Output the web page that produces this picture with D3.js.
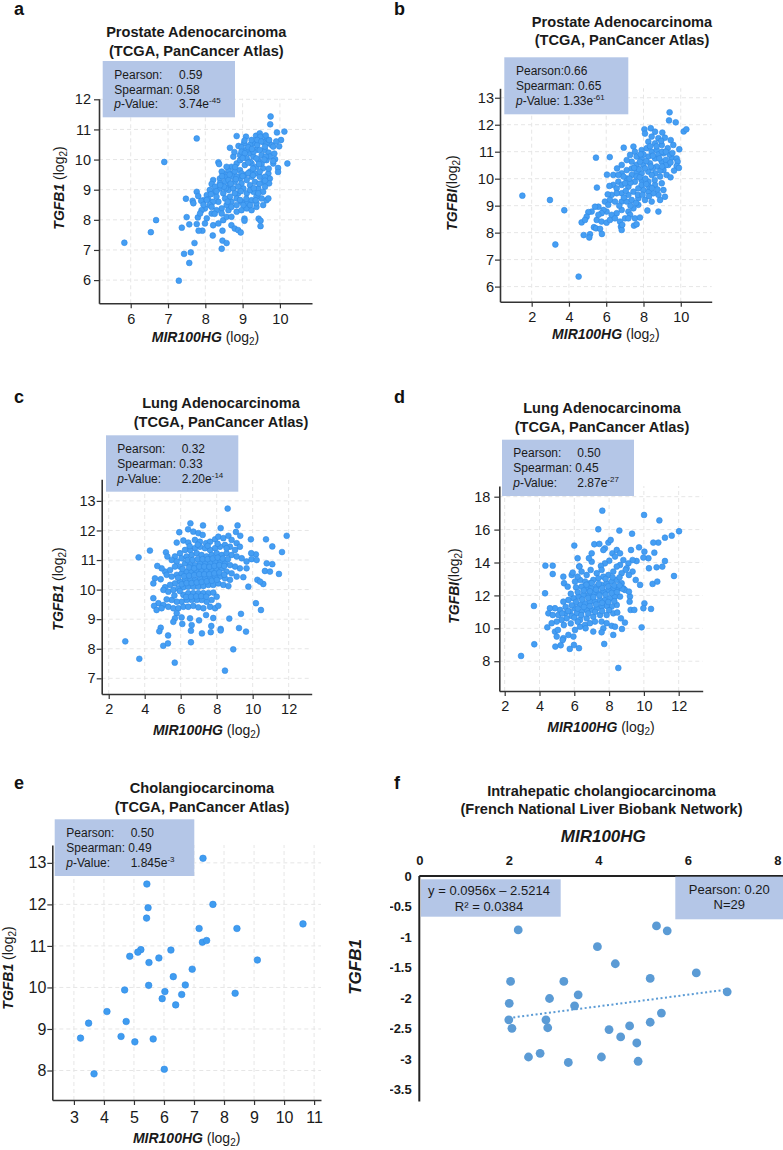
<!DOCTYPE html>
<html><head><meta charset="utf-8">
<script src="https://cdn.jsdelivr.net/npm/d3@7"></script>
<style>body{margin:0;background:#fff}svg{display:block}</style>
</head><body>
<svg id="c" width="783" height="1150"></svg>
<script>
// ---------------- DATA ----------------
const pointsA = [[9.75,11.43],[9.74,11.17],[9.92,10.90],[10.12,10.93],[10.03,10.65],[9.98,10.44],[10.20,9.87],[9.95,9.72],[9.95,9.59],[7.77,10.70],[8.84,10.78],[9.09,10.76],[9.36,10.79],[9.46,10.87],[9.48,10.76],[9.64,10.68],[9.55,10.59],[9.71,10.54],[9.78,10.48],[9.29,10.54],[9.20,10.49],[9.04,10.54],[8.89,10.45],[8.97,10.41],[8.66,10.39],[9.37,10.32],[9.60,10.32],[9.70,10.23],[9.51,10.15],[9.73,10.10],[9.87,10.01],[9.82,9.87],[9.64,9.98],[9.42,9.98],[9.20,10.21],[9.11,10.04],[8.93,10.15],[8.75,10.10],[8.84,9.87],[8.70,9.76],[8.35,9.91],[8.37,9.85],[8.62,9.63],[8.48,9.54],[8.57,9.43],[8.75,9.54],[8.93,9.65],[9.06,9.82],[9.24,9.87],[9.37,9.76],[9.55,9.71],[9.69,9.54],[9.73,9.37],[9.71,9.21],[9.55,9.26],[9.46,9.43],[9.33,9.54],[9.20,9.60],[9.06,9.49],[8.93,9.37],[8.79,9.26],[8.66,9.15],[8.53,9.26],[8.39,9.37],[8.21,9.32],[8.17,9.19],[8.12,8.99],[8.04,8.82],[7.95,8.65],[8.08,8.68],[8.26,8.93],[8.39,9.04],[8.48,8.88],[8.62,8.99],[8.75,9.04],[8.88,8.88],[9.02,9.04],[9.20,9.15],[9.33,9.26],[9.42,9.04],[9.55,8.93],[9.64,8.65],[9.51,8.71],[9.37,8.77],[9.24,8.65],[9.11,8.55],[8.97,8.60],[8.84,8.71],[8.70,8.60],[8.57,8.49],[8.44,8.38],[8.35,8.60],[8.21,8.60],[8.12,8.49],[7.99,8.38],[7.90,8.32],[7.77,8.93],[7.81,8.79],[7.48,8.70],[7.66,8.63],[7.68,8.55],[7.89,8.63],[7.80,8.08],[7.86,8.21],[7.50,8.09],[7.37,7.74],[7.57,7.85],[7.77,7.86],[8.04,8.05],[8.17,8.21],[7.99,7.88],[8.21,7.82],[8.35,7.88],[8.48,7.99],[8.57,8.10],[8.70,8.10],[8.84,8.27],[8.97,8.32],[9.11,8.38],[9.24,8.32],[9.37,8.43],[8.70,7.82],[8.79,7.71],[8.88,7.66],[8.95,7.58],[8.46,7.64],[8.20,7.48],[7.92,7.64],[7.82,7.64],[9.43,8.04],[9.48,7.97],[9.48,7.79],[9.05,8.04],[9.05,7.97],[7.71,7.23],[7.43,6.87],[7.61,6.92],[8.44,7.04],[8.46,7.31],[8.57,7.23],[8.93,8.66],[8.79,8.88],[9.11,8.88],[9.29,8.93],[8.66,8.77],[8.53,8.71],[8.30,8.77],[9.24,9.43],[9.11,9.32],[8.97,9.21],[9.46,9.60],[9.60,9.43],[9.11,10.32],[8.97,10.26],[9.29,10.10],[9.39,10.48],[9.24,10.65],[9.82,10.43],[9.62,10.10],[8.93,9.98],[8.79,9.60],[8.97,9.54],[8.62,9.32],[8.88,9.10],[9.20,8.99],[9.42,8.88],[9.60,9.10],[8.39,9.21],[8.26,9.10],[8.04,8.66],[8.17,8.43],[8.30,8.32],[8.44,8.21],[8.62,8.32],[8.70,8.43],[8.84,8.49],[9.02,8.49],[9.20,8.49],[9.37,8.55],[9.55,8.49],[9.69,8.71],[9.20,9.93],[9.37,10.04],[9.51,9.87],[9.60,10.43],[9.71,10.65],[9.39,10.65],[9.15,10.41],[9.06,10.21],[9.29,10.26],[9.46,10.32],[8.75,9.43],[8.84,9.43],[8.57,9.76],[8.44,9.60],[8.55,9.05],[8.68,9.20],[8.82,9.35],[9.00,9.45],[9.15,9.55],[9.28,9.70],[9.44,9.85],[9.58,10.00],[9.15,9.90],[9.00,10.05],[8.80,9.75],[8.65,9.50],[8.50,9.10],[9.30,9.05],[9.45,9.20],[9.60,9.30],[9.10,8.70],[8.95,8.95],[9.35,8.65],[8.60,8.60],[8.30,8.95],[8.45,9.45],[9.50,10.60],[9.62,10.80],[9.85,10.20],[9.90,10.60],[9.25,10.35],[8.78,10.25],[9.05,10.63],[8.40,9.15],[8.15,8.85],[7.95,8.50],[8.25,8.20],[9.28,9.48],[9.70,9.70],[9.82,9.95],[5.83,7.24],[6.54,7.59],[6.68,7.99],[6.90,9.92],[7.29,5.98],[7.57,6.57]];

const pointsB = [[9.40,12.46],[9.37,12.16],[9.73,12.09],[10.16,11.75],[10.30,11.83],[8.05,11.83],[8.39,11.87],[8.08,11.67],[8.62,11.74],[9.01,11.71],[8.44,11.56],[8.80,11.50],[9.15,11.52],[9.46,11.43],[8.26,11.37],[8.62,11.31],[8.98,11.25],[9.30,11.13],[9.92,11.09],[6.94,11.15],[5.45,10.78],[6.19,10.80],[7.46,11.19],[7.54,11.00],[7.90,11.06],[8.17,11.13],[8.44,11.00],[8.71,11.06],[9.07,10.94],[9.51,10.78],[9.78,10.75],[9.83,10.63],[9.78,10.47],[9.64,10.30],[9.33,10.51],[8.98,10.63],[8.62,10.75],[8.26,10.82],[7.90,10.75],[7.63,10.82],[7.37,10.63],[7.10,10.69],[6.83,10.51],[6.58,10.38],[6.83,10.20],[7.10,10.32],[7.37,10.38],[7.63,10.51],[7.99,10.51],[8.35,10.57],[8.71,10.45],[9.07,10.32],[9.24,10.14],[8.89,10.08],[8.62,10.20],[8.26,10.26],[7.90,10.20],[7.63,10.26],[7.37,10.14],[7.10,10.01],[6.92,10.08],[6.65,9.89],[6.38,9.77],[6.04,10.15],[6.38,10.14],[6.17,9.73],[5.50,9.67],[6.56,9.64],[6.83,9.77],[7.19,9.70],[7.54,9.89],[7.90,9.95],[8.26,9.89],[8.62,9.77],[8.98,9.83],[9.07,9.58],[8.80,9.40],[8.53,9.46],[8.26,9.52],[7.99,9.58],[7.72,9.64],[7.46,9.52],[7.19,9.40],[6.83,9.46],[6.56,9.46],[6.29,9.40],[6.08,9.42],[5.93,9.15],[6.20,9.21],[6.47,9.15],[6.83,9.15],[7.10,9.15],[7.37,9.21],[7.72,9.27],[8.08,9.21],[8.44,9.15],[8.89,9.21],[9.15,9.33],[8.80,8.78],[8.21,8.82],[7.72,9.03],[7.46,8.90],[7.19,8.78],[6.83,8.84],[6.56,8.72],[6.29,8.66],[6.02,8.78],[5.85,8.84],[5.58,8.96],[5.40,8.96],[5.22,8.78],[5.04,8.76],[4.95,8.59],[4.68,8.38],[4.86,8.47],[5.49,8.47],[5.75,8.41],[6.02,8.37],[6.20,8.47],[6.47,8.53],[6.74,8.41],[7.01,8.53],[7.28,8.66],[7.54,8.53],[7.81,8.56],[7.49,8.26],[7.63,8.31],[7.19,8.53],[6.79,8.22],[6.83,8.10],[6.86,8.29],[5.34,8.20],[5.45,8.16],[5.67,8.14],[5.77,7.95],[5.13,7.94],[4.79,7.91],[5.09,7.82],[3.75,8.83],[5.75,8.72],[5.58,8.66],[6.11,9.03],[7.90,9.77],[7.63,10.08],[8.08,10.38],[8.44,10.14],[7.81,10.63],[7.28,10.88],[7.01,9.83],[6.65,10.14],[8.00,10.90],[8.50,10.40],[8.80,10.90],[9.20,10.70],[8.30,9.70],[7.70,9.40],[8.60,9.95],[9.40,10.90],[9.00,11.00],[8.10,10.00],[7.30,9.85],[8.90,10.30],[7.75,10.35],[8.15,10.65],[8.50,10.85],[8.85,10.75],[9.20,10.50],[9.45,10.60],[9.55,10.95],[8.70,11.20],[8.35,11.20],[7.85,10.90],[7.50,10.40],[7.25,10.00],[7.80,10.05],[8.15,9.80],[8.45,9.65],[8.75,9.60],[8.40,10.45],[9.00,10.45],[7.05,9.55],[7.60,9.10],[7.95,9.40],[8.30,9.35],[6.95,9.30],[6.70,9.00],[7.30,9.00],[9.20,11.00],[8.95,11.40],[9.60,11.25],[9.90,10.40],[9.45,10.05],[1.50,9.37],[2.98,9.21],[3.27,7.56],[4.52,6.37]];

const pointsC = [[8.61,12.74],[6.54,12.24],[7.24,12.17],[6.41,12.04],[6.70,11.96],[6.98,11.91],[7.22,11.85],[5.92,11.94],[8.22,12.08],[9.16,12.17],[9.07,11.95],[9.31,11.82],[9.90,11.70],[10.74,11.70],[11.89,11.82],[11.09,11.46],[11.63,11.27],[10.18,11.19],[9.92,11.23],[4.29,11.32],[3.66,11.09],[5.18,11.26],[5.26,11.12],[5.78,11.59],[6.15,11.66],[6.42,11.59],[6.79,11.68],[7.07,11.62],[7.41,11.57],[7.63,11.62],[7.91,11.70],[8.09,11.79],[8.37,11.74],[8.65,11.82],[8.83,11.68],[9.11,11.57],[9.29,11.45],[9.02,11.34],[8.74,11.45],[8.46,11.51],[8.18,11.45],[7.91,11.40],[7.63,11.34],[7.35,11.40],[7.07,11.45],[6.79,11.40],[6.52,11.34],[6.24,11.34],[5.96,11.23],[5.68,11.12],[5.50,11.00],[5.78,10.95],[6.05,11.06],[6.33,11.12],[6.61,11.17],[6.89,11.23],[7.16,11.17],[7.44,11.12],[7.72,11.17],[8.00,11.23],[8.28,11.17],[8.55,11.23],[8.83,11.17],[9.11,11.12],[9.39,11.06],[9.66,10.95],[9.94,11.03],[10.22,11.00],[10.78,10.89],[11.09,10.86],[10.68,10.63],[10.96,10.61],[11.46,10.53],[10.26,10.33],[10.59,10.19],[10.41,10.27],[9.76,10.10],[9.48,10.42],[9.66,10.72],[9.29,10.72],[9.02,10.78],[8.74,10.83],[8.46,10.89],[8.18,10.95],[7.91,10.95],[7.63,10.89],[7.35,10.89],[7.07,10.89],[6.79,10.83],[6.52,10.83],[6.24,10.89],[5.96,10.78],[5.68,10.78],[5.41,10.66],[5.13,10.61],[4.94,10.72],[4.70,10.80],[4.57,10.38],[4.89,10.35],[4.48,10.21],[5.22,10.50],[5.50,10.44],[5.78,10.50],[6.05,10.55],[6.33,10.61],[6.61,10.61],[6.89,10.61],[7.16,10.66],[7.44,10.66],[7.72,10.66],[8.00,10.66],[8.28,10.72],[8.55,10.61],[8.83,10.55],[9.11,10.44],[8.74,10.33],[8.46,10.38],[8.18,10.44],[7.91,10.44],[7.63,10.38],[7.35,10.38],[7.07,10.38],[6.79,10.33],[6.52,10.33],[6.24,10.33],[5.96,10.27],[5.68,10.21],[5.41,10.16],[5.13,10.08],[5.04,9.99],[5.31,9.93],[5.59,9.99],[5.87,10.04],[6.15,10.08],[6.42,10.10],[6.70,10.10],[6.98,10.10],[7.26,10.12],[7.54,10.16],[7.81,10.16],[8.09,10.21],[8.37,10.16],[8.65,10.12],[6.15,9.82],[6.42,9.88],[6.70,9.88],[6.98,9.88],[7.26,9.88],[7.54,9.88],[7.81,9.90],[8.00,9.76],[7.72,9.65],[7.44,9.59],[7.16,9.65],[6.89,9.65],[6.61,9.65],[6.33,9.65],[6.05,9.59],[5.78,9.59],[5.50,9.65],[5.22,9.67],[4.48,9.71],[4.76,9.54],[5.04,9.48],[4.52,9.45],[4.66,9.31],[4.94,9.37],[5.31,9.42],[5.59,9.37],[5.87,9.37],[6.15,9.42],[6.42,9.42],[6.70,9.45],[6.98,9.40],[7.26,9.37],[7.63,9.42],[7.91,9.37],[8.09,9.45],[10.18,9.54],[10.46,9.31],[9.35,9.18],[8.70,9.02],[7.81,9.04],[7.41,9.14],[7.02,8.96],[6.52,9.03],[6.05,9.06],[5.78,9.20],[5.68,9.03],[5.59,8.91],[6.09,8.84],[6.61,8.80],[7.70,8.77],[8.22,8.67],[9.24,8.70],[4.89,8.71],[6.38,11.00],[6.66,11.00],[6.94,11.03],[7.22,11.03],[7.50,11.03],[7.78,11.05],[8.06,11.08],[8.34,11.05],[8.62,11.03],[6.10,10.70],[6.47,10.75],[6.75,10.72],[7.03,10.78],[7.31,10.78],[7.59,10.77],[7.87,10.80],[8.15,10.83],[8.42,10.80],[5.85,10.40],[6.19,10.45],[6.47,10.47],[6.75,10.49],[7.03,10.52],[7.31,10.52],[7.59,10.52],[7.87,10.55],[8.15,10.58],[8.42,10.50],[6.05,10.18],[6.33,10.22],[6.61,10.22],[6.89,10.24],[7.17,10.26],[7.45,10.28],[7.73,10.30],[8.01,10.33],[6.30,9.75],[6.58,9.76],[6.86,9.77],[7.14,9.78],[7.42,9.76],[5.95,9.95],[5.65,9.80],[6.50,11.47],[6.95,11.52],[7.50,11.48],[8.05,11.55],[8.55,11.40],[2.92,8.25],[3.70,7.66],[4.81,8.59],[5.03,8.10],[5.29,8.18],[5.30,8.45],[5.67,7.53],[6.57,8.22],[6.57,8.61],[7.18,8.52],[7.67,8.56],[8.22,8.62],[8.92,7.98],[8.46,7.26],[9.63,8.58]];

const pointsD = [[7.61,17.15],[10.01,16.89],[10.89,16.56],[12.02,15.90],[11.60,15.63],[11.21,15.51],[10.83,15.21],[10.54,15.21],[8.59,15.94],[9.32,15.75],[7.38,16.02],[6.00,15.03],[7.15,15.11],[7.44,15.13],[7.96,15.21],[8.09,15.37],[7.76,14.86],[7.67,14.76],[8.19,14.56],[8.44,14.76],[8.63,14.56],[8.34,14.36],[8.01,14.11],[7.76,13.95],[7.53,13.79],[7.57,13.55],[7.29,13.35],[7.00,14.05],[7.00,14.56],[6.19,14.26],[6.29,13.77],[6.84,14.26],[9.26,14.76],[9.72,14.92],[10.03,14.66],[10.60,14.60],[10.26,14.26],[9.97,14.30],[9.58,14.09],[9.35,14.15],[9.11,13.95],[8.82,14.15],[8.63,13.85],[9.01,13.65],[9.35,13.45],[9.14,13.24],[9.53,12.94],[8.95,13.55],[8.72,13.35],[8.44,13.75],[8.24,13.45],[7.96,13.24],[7.67,13.14],[7.38,13.04],[7.09,12.94],[6.90,12.74],[6.62,12.84],[6.33,12.94],[6.04,12.84],[5.85,13.24],[5.91,13.39],[5.37,13.14],[5.41,12.74],[5.62,12.53],[6.10,12.49],[6.42,12.53],[6.71,12.43],[7.00,12.43],[7.29,12.53],[7.57,12.64],[7.86,12.74],[8.15,12.84],[8.44,12.94],[8.72,12.74],[8.82,12.43],[8.53,12.43],[8.24,12.43],[7.96,12.33],[7.67,12.23],[7.38,12.13],[7.09,12.13],[6.81,12.03],[6.52,12.03],[6.23,11.93],[5.95,11.83],[5.66,11.72],[5.37,11.62],[5.18,11.12],[4.89,11.22],[4.60,11.22],[4.51,10.91],[4.76,10.81],[5.08,10.81],[5.47,10.91],[5.75,11.02],[6.04,11.22],[6.33,11.42],[6.62,11.52],[6.90,11.62],[7.19,11.62],[7.48,11.72],[7.76,11.72],[8.05,11.83],[8.34,11.93],[8.63,11.93],[8.44,11.42],[8.15,11.32],[7.86,11.36],[7.57,11.32],[7.29,11.22],[7.00,11.12],[6.71,11.12],[6.42,11.02],[6.14,10.91],[5.85,10.75],[5.56,10.61],[5.27,10.51],[4.99,10.41],[4.70,10.31],[4.45,10.06],[4.89,9.80],[4.99,9.50],[5.37,9.40],[5.66,9.60],[5.95,9.50],[6.04,9.90],[6.33,10.10],[6.62,10.21],[6.90,10.31],[7.19,10.41],[7.57,10.41],[7.86,10.31],[8.15,10.15],[8.34,10.10],[7.67,10.00],[7.09,9.80],[6.65,10.00],[6.33,10.51],[6.71,10.61],[7.09,10.71],[7.48,10.81],[7.86,10.81],[8.24,10.91],[8.47,10.96],[8.68,10.61],[8.91,10.35],[8.74,9.96],[8.24,9.60],[7.57,9.76],[9.87,10.06],[10.41,11.18],[10.03,11.52],[9.97,11.22],[9.24,11.12],[9.45,11.12],[9.20,11.93],[9.18,11.62],[8.91,12.33],[8.76,12.41],[9.14,12.23],[9.78,12.64],[10.50,12.70],[10.77,12.84],[10.29,13.65],[10.73,13.71],[11.06,13.75],[11.21,14.09],[11.73,13.18],[4.34,13.81],[4.76,13.81],[4.76,13.30],[4.32,12.13],[6.29,13.75],[6.42,13.45],[6.19,13.14],[6.94,13.55],[6.71,13.24],[5.98,8.99],[5.33,9.29],[5.06,9.90],[6.20,12.20],[6.55,12.30],[6.90,12.25],[7.25,12.35],[7.60,12.45],[7.95,12.55],[8.30,12.60],[8.60,12.60],[5.80,12.10],[6.10,11.60],[6.45,11.75],[6.80,11.85],[7.10,11.90],[7.45,12.00],[7.80,12.05],[8.15,12.15],[8.45,12.20],[5.50,11.30],[5.85,11.40],[6.20,11.20],[6.55,11.30],[6.90,11.35],[7.25,11.45],[7.60,11.55],[7.95,11.60],[8.30,11.65],[5.30,10.90],[5.65,11.05],[6.00,10.65],[6.40,10.80],[6.80,10.90],[7.20,11.00],[7.60,11.05],[8.00,11.10],[5.40,10.20],[5.80,10.30],[6.20,10.40],[7.40,12.70],[7.80,13.00],[8.20,13.10],[8.60,13.10],[7.00,12.75],[6.70,12.65],[2.94,8.32],[3.70,9.03],[3.68,11.36],[4.91,8.89],[5.22,8.97],[5.74,8.75],[6.27,8.79],[7.72,9.05],[8.53,7.59]];

const pointsE = [[7.30,13.11],[5.43,12.49],[5.47,11.92],[7.63,12.00],[5.42,11.67],[7.17,11.42],[8.43,11.42],[10.63,11.53],[7.28,11.09],[7.42,11.13],[6.23,10.90],[5.23,10.91],[5.13,10.85],[4.86,10.75],[5.83,10.71],[5.50,10.60],[9.11,10.66],[6.94,10.44],[6.31,10.26],[6.71,10.06],[5.49,10.05],[4.69,9.94],[6.03,9.90],[6.59,9.83],[8.37,9.86],[5.94,9.73],[6.39,9.58],[4.10,9.42],[3.49,9.14],[4.74,9.18],[3.22,8.78],[4.57,8.82],[5.03,8.69],[5.64,8.76],[3.67,7.92],[6.01,8.03]];

const pointsF = [[2.21,-0.885],[5.30,-0.82],[5.54,-0.90],[3.98,-1.16],[4.38,-1.44],[6.19,-1.59],[2.04,-1.73],[3.23,-1.73],[5.16,-1.68],[6.88,-1.90],[3.55,-1.95],[2.91,-2.01],[2.01,-2.09],[3.47,-2.13],[5.41,-2.25],[2.00,-2.36],[2.83,-2.36],[5.16,-2.40],[2.07,-2.50],[2.87,-2.49],[4.70,-2.46],[4.24,-2.52],[4.50,-2.64],[4.86,-2.74],[2.44,-2.97],[2.70,-2.91],[3.33,-3.06],[4.07,-2.97],[4.89,-3.04]];
const trendF = {slope: 0.0956, intercept: -2.5214, from: 2.0, to: 6.88};

const ticksAx = [6,7,8,9,10], ticksAy = [6,7,8,9,10,11,12];
const ticksBx = [2,4,6,8,10], ticksBy = [6,7,8,9,10,11,12,13];
const ticksCx = [2,4,6,8,10,12], ticksCy = [7,8,9,10,11,12,13];
const ticksDx = [2,4,6,8,10,12], ticksDy = [8,10,12,14,16,18];
const ticksEx = [3,4,5,6,7,8,9,10,11], ticksEy = [8,9,10,11,12,13];
const ticksFx = [0,2,4,6,8], ticksFy = [0,-0.5,-1,-1.5,-2,-2.5,-3,-3.5];

const statsA = ["0.59","0.58","3.74","-45"];
const statsB = ["0.66","0.65","1.33","-61"];
const statsC = ["0.32","0.33","2.20","-14"];
const statsD = ["0.50","0.45","2.87","-27"];
const statsE = ["0.50","0.49","1.845","-3"];
const statsF = ["y = 0.0956x \u2013 2.5214","R\u00B2 = 0.0384","Pearson: 0.20","N=29"];

const titleTCGA = "(TCGA, PanCancer Atlas)";
const titles = {
  a:["Prostate Adenocarcinoma", titleTCGA], b:["Prostate Adenocarcinoma", titleTCGA],
  c:["Lung Adenocarcinoma", titleTCGA], d:["Lung Adenocarcinoma", titleTCGA],
  e:["Cholangiocarcinoma", titleTCGA],
  f:["Intrahepatic cholangiocarcinoma","(French National Liver Biobank Network)"]
};

// ---------------- DRAWING ----------------
const FONT = '"Liberation Sans", Arial, Helvetica, sans-serif';
const svg = d3.select("#c").attr("font-family", FONT);
const TXT = "#1a1a1a";
const fmtInt = d3.format("d");

function scatter(c) {
  const g = svg.append("g");
  const x = d3.scaleLinear().domain(c.xDomain).range(c.xRange);
  const y = d3.scaleLinear().domain(c.yDomain).range(c.yRange);
  g.append("g").selectAll("line").data(c.xTicks).join("line")
    .attr("x1", d => x(d)).attr("x2", d => x(d)).attr("y1", c.yRange[0]).attr("y2", c.yRange[1])
    .attr("stroke", "#e6e6e6").attr("stroke-dasharray", "4,3");
  g.append("g").selectAll("line").data(c.yTicks).join("line")
    .attr("y1", d => y(d)).attr("y2", d => y(d)).attr("x1", c.xRange[0]).attr("x2", c.xRange[1])
    .attr("stroke", "#e6e6e6").attr("stroke-dasharray", "4,3");
  const xa = g.append("g").attr("transform", `translate(0,${c.yRange[0]})`)
    .call(d3.axisBottom(x).tickValues(c.xTicks).tickFormat(fmtInt).tickSize(5).tickSizeOuter(0).tickPadding(c.xPad));
  const ya = g.append("g").attr("transform", `translate(${c.xRange[0]},0)`)
    .call(d3.axisLeft(y).tickValues(c.yTicks).tickFormat(fmtInt).tickSize(5).tickSizeOuter(0).tickPadding(c.yPad));
  [xa, ya].forEach(a => {
    a.attr("font-family", FONT);
    a.select(".domain").attr("stroke", "#333").attr("stroke-width", 1.6);
    a.selectAll(".tick line").attr("stroke", "#333").attr("stroke-width", 1.2);
    a.selectAll(".tick text").attr("font-size", c.tickFont).attr("fill", TXT);
  });
  g.append("g").selectAll("circle").data(c.data).join("circle")
    .attr("cx", d => x(d[0])).attr("cy", d => y(d[1])).attr("r", c.r)
    .attr("fill", c.fill).attr("stroke", c.stroke).attr("stroke-width", 0.6);
  const xl = g.append("text").attr("x", (c.xRange[0] + c.xRange[1]) / 2).attr("y", c.xLabelY)
    .attr("text-anchor", "middle").attr("font-size", 14).attr("fill", TXT);
  xl.append("tspan").attr("font-weight", "bold").attr("font-style", "italic").text("MIR100HG");
  xl.append("tspan").text(" (log");
  xl.append("tspan").attr("font-size", 10).attr("dy", 3).text("2");
  xl.append("tspan").attr("dy", -3).text(")");
  const yl = g.append("text").attr("transform", `translate(${c.yLabelX},${c.yLabelY}) rotate(-90)`)
    .attr("text-anchor", "middle").attr("font-size", 14).attr("fill", TXT);
  yl.append("tspan").attr("font-weight", "bold").attr("font-style", "italic").text(c.yGene);
  yl.append("tspan").text(c.yGap + "(log");
  yl.append("tspan").attr("font-size", 10).attr("dy", 3).text("2");
  yl.append("tspan").attr("dy", -3).text(")");
}

function statBox(b, s) {
  svg.append("rect").attr("x", b.x).attr("y", b.y).attr("width", b.w).attr("height", b.h).attr("fill", "#b4c6e7");
  const t = svg.append("g").attr("font-size", 12).attr("fill", TXT);
  if (b.inline) {
    t.append("text").attr("x", b.tx).attr("y", b.ty[0]).text("Pearson:" + s[0]);
    t.append("text").attr("x", b.tx).attr("y", b.ty[1]).text("Spearman: " + s[1]);
    const p = t.append("text").attr("x", b.tx).attr("y", b.ty[2]);
    p.append("tspan").attr("font-style", "italic").text("p");
    p.append("tspan").text("-Value: " + s[2] + "e");
    p.append("tspan").attr("font-size", 8).attr("dy", -5).text(s[3]);
  } else {
    t.append("text").attr("x", b.tx).attr("y", b.ty[0]).text("Pearson:");
    t.append("text").attr("x", b.vx).attr("y", b.ty[0]).text(s[0]);
    t.append("text").attr("x", b.tx).attr("y", b.ty[1]).text("Spearman: " + s[1]);
    const p = t.append("text").attr("x", b.tx).attr("y", b.ty[2]);
    p.append("tspan").attr("font-style", "italic").text("p");
    p.append("tspan").text("-Value:");
    const v = t.append("text").attr("x", b.vx).attr("y", b.ty[2]);
    v.append("tspan").text(s[2] + "e");
    v.append("tspan").attr("font-size", 8).attr("dy", -5).text(s[3]);
  }
}

function title(lines, cx, y1, y2) {
  svg.append("text").attr("x", cx).attr("y", y1).attr("text-anchor", "middle")
    .attr("font-size", 14.6).attr("font-weight", "bold").attr("fill", TXT).text(lines[0]);
  svg.append("text").attr("x", cx).attr("y", y2).attr("text-anchor", "middle")
    .attr("font-size", 14.6).attr("font-weight", "bold").attr("fill", TXT).text(lines[1]);
}
function letter(l, x, y) {
  svg.append("text").attr("x", x).attr("y", y).attr("font-size", 18).attr("font-weight", "bold").attr("fill", "#111").text(l);
}

const dotFill = "#459ef3", dotStroke = "#2f8ae6";

scatter({data: pointsA, xDomain: [5.15, 10.86], xRange: [99, 312], yDomain: [5.23, 12.02], yRange: [303.3, 98.7],
  xTicks: ticksAx, yTicks: ticksAy, xPad: 5, yPad: 3, tickFont: 14.5, r: 2.9, fill: dotFill, stroke: dotStroke,
  xLabelY: 342, yLabelX: 64, yLabelY: 188, yGene: "TGFB1", yGap: " "});
scatter({data: pointsB, xDomain: [0.30, 11.66], xRange: [500, 711.7], yDomain: [5.44, 13.35], yRange: [301.7, 88.3],
  xTicks: ticksBx, yTicks: ticksBy, xPad: 5, yPad: 1, tickFont: 14.5, r: 2.9, fill: dotFill, stroke: dotStroke,
  xLabelY: 339, yLabelX: 457, yLabelY: 193, yGene: "TGFBI", yGap: ""});
scatter({data: pointsC, xDomain: [1.61, 13.28], xRange: [101.7, 311.7], yDomain: [6.47, 13.73], yRange: [694, 479.3],
  xTicks: ticksCx, yTicks: ticksCy, xPad: 5, yPad: 1, tickFont: 14.5, r: 2.9, fill: dotFill, stroke: dotStroke,
  xLabelY: 735, yLabelX: 63, yLabelY: 589, yGene: "TGFB1", yGap: " "});
scatter({data: pointsD, xDomain: [1.69, 13.38], xRange: [499.3, 702.7], yDomain: [6.19, 18.65], yRange: [691, 486],
  xTicks: ticksDx, yTicks: ticksDy, xPad: 5, yPad: 4, tickFont: 14.5, r: 2.9, fill: dotFill, stroke: dotStroke,
  xLabelY: 732, yLabelX: 459, yLabelY: 586, yGene: "TGFBI", yGap: ""});
scatter({data: pointsE, xDomain: [2.28, 11.23], xRange: [52.3, 321], yDomain: [7.29, 13.43], yRange: [1100, 845],
  xTicks: ticksEx, yTicks: ticksEy, xPad: 7, yPad: 1, tickFont: 16, r: 3.3, fill: "#3f9cf0", stroke: dotStroke,
  xLabelY: 1143, yLabelX: 12.5, yLabelY: 968, yGene: "TGFB1", yGap: " "});

statBox({x: 102.7, y: 61, w: 132.3, h: 56.3, tx: 114.3, vx: 179, ty: [79, 93.7, 108.3]}, statsA);
statBox({x: 504.3, y: 57.3, w: 124, h: 57, tx: 516, ty: [75, 90.3, 105], inline: true}, statsB);
statBox({x: 106, y: 435.3, w: 132.3, h: 56.4, tx: 117.3, vx: 181.7, ty: [453.3, 468.3, 483.3]}, statsC);
statBox({x: 502, y: 439.7, w: 132, h: 56.3, tx: 513.3, vx: 577.3, ty: [457.3, 472.3, 487.3]}, statsD);
statBox({x: 54.7, y: 819.3, w: 139.6, h: 56.7, tx: 66.3, vx: 130.7, ty: [836.7, 851.7, 866.7]}, statsE);

// Panel f
(function () {
  const g = svg.append("g");
  const x = d3.scaleLinear().domain([0, 8]).range([419.3, 777.3]);
  const y = d3.scaleLinear().domain([0, -3.5]).range([876, 1089.3]);
  svg.append("defs").append("clipPath").attr("id", "fclip").append("rect")
    .attr("x", 390).attr("y", 820).attr("width", 393).attr("height", 330);
  const top = g.append("g").attr("transform", `translate(0,${y(0)})`)
    .call(d3.axisTop(x).tickValues(ticksFx).tickSize(0).tickPadding(11.5).tickFormat(fmtInt));
  const left = g.append("g").attr("clip-path", "url(#fclip)").append("g").attr("transform", `translate(${x(0)},0)`)
    .call(d3.axisLeft(y).tickValues(ticksFy).tickSize(0).tickPadding(7.6).tickFormat(d => String(d)));
  [top, left].forEach(a => {
    a.attr("font-family", FONT);
    a.select(".domain").remove();
    a.selectAll(".tick text").attr("font-size", 13).attr("font-weight", "bold").attr("fill", TXT);
  });
  g.append("line").attr("x1", x(0)).attr("x2", x(8.13)).attr("y1", y(0)).attr("y2", y(0))
    .attr("stroke", "#222").attr("stroke-width", 2);
  g.append("line").attr("x1", x(0)).attr("x2", x(0)).attr("y1", y(0)).attr("y2", y(-3.7))
    .attr("stroke", "#222").attr("stroke-width", 2);
  g.append("rect").attr("x", 421).attr("y", 879.3).attr("width", 139.7).attr("height", 37.4).attr("fill", "#b4c6e7");
  g.append("rect").attr("x", 675.3).attr("y", 876.7).attr("width", 107.7).attr("height", 42.6).attr("fill", "#b4c6e7");
  const bt = g.append("g").attr("font-size", 13).attr("fill", TXT).attr("text-anchor", "middle");
  bt.append("text").attr("x", 489).attr("y", 895).text(statsF[0]);
  bt.append("text").attr("x", 489).attr("y", 911).text(statsF[1]);
  bt.append("text").attr("x", 729.3).attr("y", 894.3).text(statsF[2]);
  bt.append("text").attr("x", 729.3).attr("y", 909.3).text(statsF[3]);
  const line = d3.line().x(d => x(d)).y(d => y(trendF.slope * d + trendF.intercept));
  g.append("path").attr("d", line([trendF.from, trendF.to])).attr("fill", "none")
    .attr("stroke", "#5b9bd5").attr("stroke-width", 2).attr("stroke-dasharray", "2,2.5");
  g.append("g").selectAll("circle").data(pointsF).join("circle")
    .attr("cx", d => x(d[0])).attr("cy", d => y(d[1])).attr("r", 4.4).attr("fill", "#5b9bd5");
  g.append("text").attr("x", 603.3).attr("y", 841.7).attr("text-anchor", "middle").attr("font-size", 17)
    .attr("font-weight", "bold").attr("font-style", "italic").attr("fill", TXT).text("MIR100HG");
  g.append("text").attr("transform", "translate(361,967) rotate(-90)").attr("text-anchor", "middle").attr("font-size", 17)
    .attr("font-weight", "bold").attr("font-style", "italic").attr("fill", TXT).text("TGFB1");
})();

title(titles.a, 196.3, 37.3, 55.5);
title(titles.b, 622, 26.7, 45);
title(titles.c, 221, 408.3, 426.7);
title(titles.d, 602, 413.3, 432.3);
title(titles.e, 202, 793.3, 812.3);
title(titles.f, 601.5, 795.7, 814.3);

letter("a", 14, 15); letter("b", 394, 15);
letter("c", 14, 403.3); letter("d", 394, 403.3);
letter("e", 14, 789.3); letter("f", 394, 789.3);
</script>
</body></html>
